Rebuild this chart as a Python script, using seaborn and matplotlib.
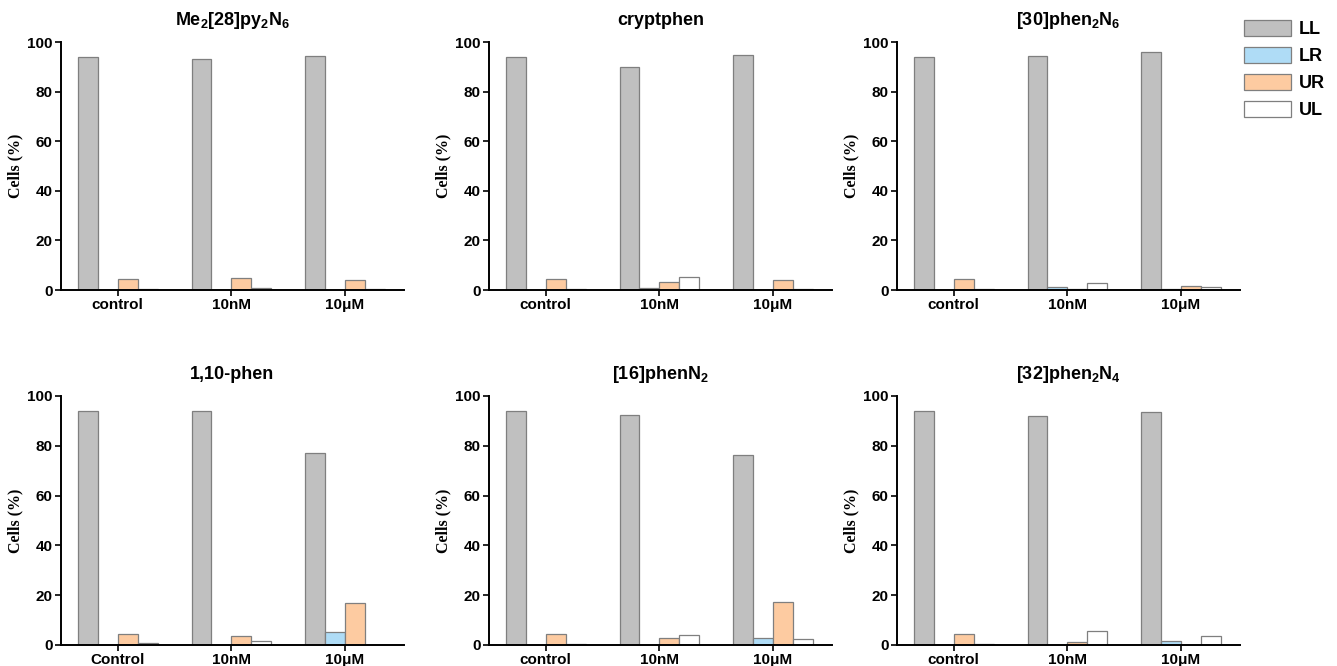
import matplotlib
matplotlib.use("Agg")
import matplotlib.pyplot as plt
import seaborn as sns
import pandas as pd
from matplotlib.patches import Patch

sns.set_style("ticks")
plt.rcParams['font.family'] = ['Liberation Sans', 'DejaVu Sans']
plt.rcParams['font.weight'] = 'bold'
plt.rcParams['text.color'] = 'black'
plt.rcParams['axes.labelcolor'] = 'black'
plt.rcParams['mathtext.fontset'] = 'custom'
plt.rcParams['mathtext.rm'] = 'Liberation Sans:bold'
plt.rcParams['mathtext.it'] = 'Liberation Sans:bold'
plt.rcParams['mathtext.bf'] = 'Liberation Sans:bold'
plt.rcParams['mathtext.default'] = 'rm'

# ---- data ----
titles = [r'Me$_2$[28]py$_2$N$_6$', 'cryptphen', r'[30]phen$_2$N$_6$',
          '1,10-phen', r'[16]phenN$_2$', r'[32]phen$_2$N$_4$']
conditions = ['control', '10nM', '10μM']
conditions_alt = ['Control', '10nM', '10μM']
gates = ['LL', 'LR', 'UR', 'UL']

LL = [[94.0, 93.0, 94.2], [94.0, 90.0, 94.8], [94.0, 94.5, 96.0],
      [94.0, 93.8, 77.0], [94.0, 92.3, 76.3], [94.0, 92.0, 93.5]]
LR = [[0.2, 0.2, 0.2], [0.2, 0.7, 0.2], [0.2, 1.2, 0.5],
      [0.2, 0.2, 5.2], [0.2, 0.2, 2.8], [0.2, 0.2, 1.6]]
UR = [[4.3, 5.0, 3.9], [4.3, 3.2, 4.0], [4.3, 0.3, 1.5],
      [4.4, 3.7, 16.9], [4.4, 2.8, 17.3], [4.4, 1.2, 0.2]]
UL = [[0.6, 0.7, 0.5], [0.5, 5.2, 0.5], [0.5, 2.8, 1.3],
      [0.7, 1.6, 0.2], [0.5, 3.9, 2.3], [0.5, 5.6, 3.7]]

palette = {'LL': '#c0c0c0', 'LR': '#afdcf6', 'UR': '#fdcba1', 'UL': '#ffffff'}

fig = plt.figure(figsize=(13.37, 6.66), dpi=100)

lefts = [61, 489, 897]
rows = [(42, 290), (396, 645)]
W, H = 1337, 666

for i in range(6):
    r, c = divmod(i, 3)
    top, bot = rows[r]
    ax = fig.add_axes([lefts[c] / W, 1 - bot / H, 343 / W, (bot - top) / H])
    conds = conditions_alt if i == 3 else conditions
    recs = []
    for g, arr in zip(gates, [LL, LR, UR, UL]):
        for cond, v in zip(conds, arr[i]):
            recs.append({'cond': cond, 'gate': g, 'value': v})
    df = pd.DataFrame(recs)
    sns.barplot(data=df, x='cond', y='value', hue='gate', hue_order=gates,
                order=conds, palette=palette, width=0.7, saturation=1,
                edgecolor='#7f7f7f', linewidth=0.9, legend=False, ax=ax)
    ax.set_xlim(-0.5, 2.52)
    ax.set_ylim(0, 100)
    ax.set_yticks([0, 20, 40, 60, 80, 100])
    ax.set_xlabel('')
    ax.set_ylabel('Cells (%)', fontfamily='Liberation Serif', fontweight='bold',
                  fontsize=11.5, labelpad=3)
    ax.set_title(titles[i], fontsize=13, fontweight='bold', pad=12, color='black')
    sns.despine(ax=ax)
    for s in ['left', 'bottom']:
        ax.spines[s].set_linewidth(1.4)
        ax.spines[s].set_color('black')
    ax.tick_params(axis='both', direction='out', length=4, width=1.2,
                   labelsize=11, colors='black')
    ax.tick_params(axis='x', pad=2)
    ax.tick_params(axis='y', pad=2)
    for lab in ax.get_xticklabels() + ax.get_yticklabels():
        lab.set_fontweight('bold')

handles = [Patch(facecolor=palette[g], edgecolor='#7f7f7f', linewidth=0.9, label=g) for g in gates]
fig.legend(handles=handles, loc='upper left', bbox_to_anchor=(1228 / W, 1 - 4 / H),
           frameon=False, handlelength=2.6, handleheight=0.95,
           labelspacing=0.5, handletextpad=0.4, prop={'weight': 'bold', 'size': 13})

fig.savefig('out.png', dpi=100)
